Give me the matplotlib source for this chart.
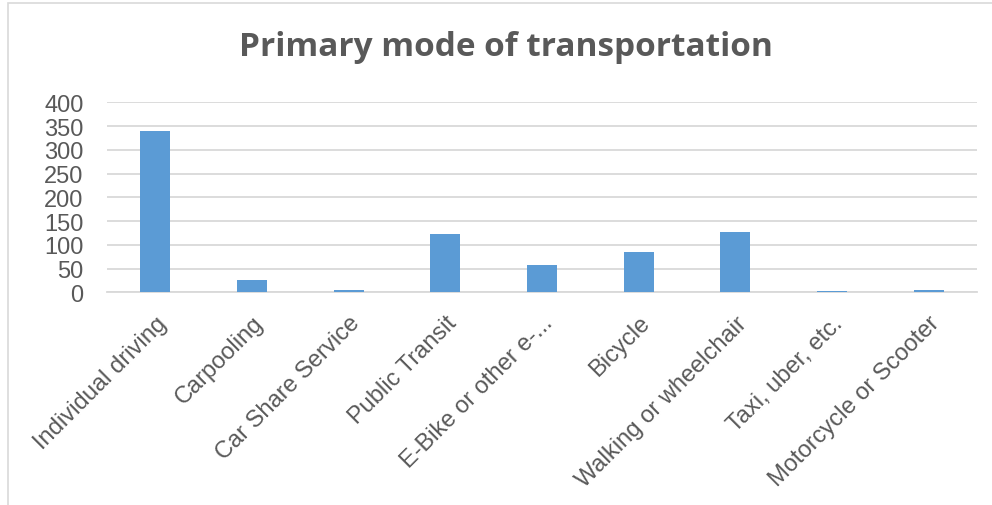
import matplotlib.pyplot as plt
from matplotlib.patches import Rectangle

# Daten
categories = ["Individual driving", "Carpooling", "Car Share Service", "Public Transit",
              "E-Bike or other e-...", "Bicycle", "Walking or wheelchair",
              "Taxi, uber, etc.", "Motorcycle or Scooter"]
counts = [340, 25, 4, 123, 57, 84, 126, 2, 5]
y_ticks = [0, 50, 100, 150, 200, 250, 300, 350, 400]

text_col = '#595959'
bar_col = '#5b9bd5'
grid_col = '#d9d9d9'

fig = plt.figure(figsize=(9.92, 5.06), dpi=100)
ax = fig.add_axes([107 / 992, 1 - 293.3 / 506, 870 / 992, 190 / 506])

x = list(range(len(categories)))
ax.bar(x, counts, width=0.31, color=bar_col, zorder=3)

ax.set_xlim(-0.5, len(categories) - 0.5)
ax.set_ylim(0, 400)
ax.set_yticks(y_ticks)
ax.set_yticklabels([str(v) for v in y_ticks], fontsize=17, color=text_col,
                   family='Liberation Sans')
ax.yaxis.grid(True, color=grid_col, linewidth=1.3, zorder=0)
ax.tick_params(axis='y', length=0, pad=17)
ax.tick_params(axis='x', length=0, pad=14)

ax.set_xticks(x)
ax.set_xticklabels(categories, rotation=45, ha='right', va='top',
                   rotation_mode='anchor', fontsize=17, color=text_col,
                   family='Liberation Sans')

for s in ['top', 'right', 'left']:
    ax.spines[s].set_visible(False)
ax.spines['bottom'].set_color(grid_col)
ax.spines['bottom'].set_linewidth(1.3)

# Titel
fig.text(506 / 992, 1 - 48 / 506, "Primary mode of transportation", ha='center', va='center',
         fontsize=24, fontweight='bold', color=text_col, family='Open Sans')

# Rahmen des Diagramms
fig.patches.append(Rectangle((8 / 992, -0.1), 1.2, 1 - 4 / 506 + 0.1,
                             transform=fig.transFigure, fill=False,
                             edgecolor=grid_col, linewidth=1.2))

fig.savefig('out.png', dpi=100)
